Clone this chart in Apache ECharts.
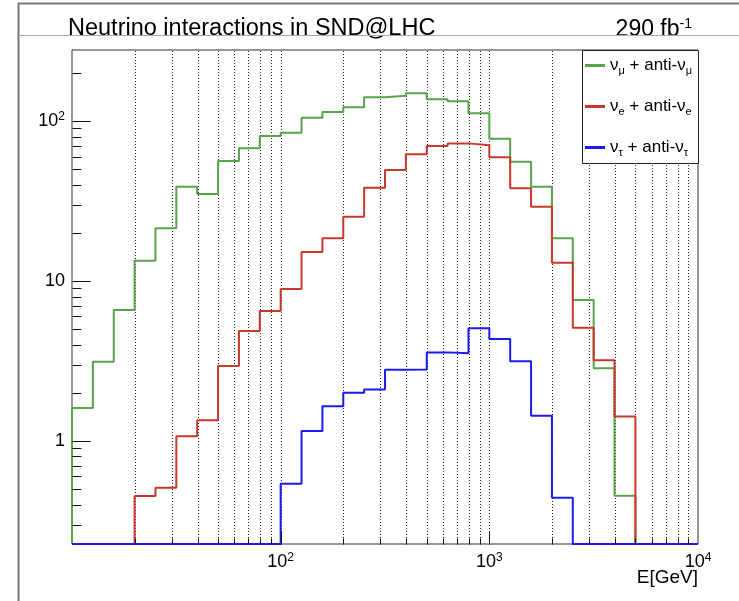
<!DOCTYPE html>
<html>
<head>
<meta charset="utf-8">
<script src="https://cdn.jsdelivr.net/npm/echarts@6/dist/echarts.min.js"></script>
<style>
html,body{margin:0;padding:0;background:#fff;}
#chart{width:739px;height:601px;}
</style>
</head>
<body>
<div id="chart"></div>
<script>
// ---- data ----
const binEdges = [10, 12.589, 15.849, 19.953, 25.119, 31.623, 39.811, 50.119, 63.096, 79.433,
  100, 125.89, 158.49, 199.53, 251.19, 316.23, 398.11, 501.19, 630.96, 794.33,
  1000, 1258.9, 1584.9, 1995.3, 2511.9, 3162.3, 3981.1, 5011.9, 6309.6, 7943.3, 10000];
const numuCounts = [1.61, 3.13, 6.59, 13.4, 21.4, 38.9, 35.0, 56.2, 67.5, 80.5,
  84.5, 105, 114, 122, 141, 144, 149, 137, 133, 112,
  77.5, 55.6, 38.9, 18.5, 7.6, 2.85, 0.455, 0, 0, 0];
const nueCounts = [0, 0, 0, 0.453, 0.51, 1.07, 1.35, 2.94, 4.87, 6.49,
  8.91, 15.2, 18.5, 25.2, 38.3, 49.4, 61.9, 69.8, 72.5, 70.5,
  59.3, 38.0, 29.1, 13.0, 5.1, 3.2, 1.42, 0, 0, 0];
const nutauCounts = [0, 0, 0, 0, 0, 0, 0, 0, 0, 0,
  0.541, 1.155, 1.65, 2.0, 2.1, 2.79, 2.8, 3.58, 3.53, 5.06,
  4.34, 3.15, 1.44, 0.442, 0, 0, 0, 0, 0, 0];
const seriesNames = ['numu', 'nue', 'nutau'];
const seriesLabels = {
  numu: '{n|\u03bd}{s|\u03bc}{n| + anti-\u03bd}{s|\u03bc}',
  nue: '{n|\u03bd}{s|e}{n| + anti-\u03bd}{s|e}',
  nutau: '{n|\u03bd}{s|\u03c4}{n| + anti-\u03bd}{s|\u03c4}'
};
const xRange = [10, 10000];
const yRange = [0.227, 278];
const xGridValues = [20, 30, 40, 50, 60, 70, 80, 90, 100, 200, 300, 400, 500, 600, 700, 800, 900,
  1000, 2000, 3000, 4000, 5000, 6000, 7000, 8000, 9000];
const xMajorTicks = [100, 1000];
const xMinorTicks = [20, 30, 40, 50, 60, 70, 80, 90, 200, 300, 400, 500, 600, 700, 800, 900,
  2000, 3000, 4000, 5000, 6000, 7000, 8000, 9000];
const yMajorTicks = [1, 10, 100];
const yMinorTicks = [0.3, 0.4, 0.5, 0.6, 0.7, 0.8, 0.9, 2, 3, 4, 5, 6, 7, 8, 9,
  20, 30, 40, 50, 60, 70, 80, 90, 200];
const xTickLabels = {100: '{b|10}{p|2}', 1000: '{b|10}{p|3}', 10000: '{b|10}{p|4}'};
const yTickLabels = {1: '{b|1}', 10: '{b|10}', 100: '{b|10}{p|2}'};

// ---- styling ----
const FONT = '"Liberation Sans", Arial, Helvetica, sans-serif';
const colors = {numu: '#58a24c', nue: '#c8382c', nutau: '#1a1af2'};
const labelRich = {
  b: {fontFamily: FONT, fontSize: 18, color: '#000'},
  p: {fontFamily: FONT, fontSize: 12, color: '#000', padding: [0, 0, 9, 0]}
};

function histPoints(counts) {
  // ROOT draws empty bins on the lower frame edge
  const v = c => (c > 0 ? c : yRange[0]);
  const pts = [[binEdges[0], yRange[0]]];
  for (let i = 0; i < counts.length; i++) pts.push([binEdges[i], v(counts[i])]);
  pts.push([binEdges[counts.length], v(counts[counts.length - 1])]);
  return pts;
}

function tickSeries(values, axis, len) {
  return {
    type: 'custom', silent: true, z: 5, animation: false,
    data: values.map(val => axis === 'x' ? [val, yRange[0]] : [xRange[0], val]),
    renderItem: function (params, api) {
      const p = api.coord([api.value(0), api.value(1)]);
      const x = Math.round(p[0]) + 0.5, y = Math.round(p[1]) + 0.5;
      const shape = axis === 'x'
        ? {x1: x, y1: y, x2: x, y2: y - len}
        : {x1: x, y1: y, x2: x + len, y2: y};
      return {type: 'line', shape: shape, style: {stroke: '#111', lineWidth: 1}};
    }
  };
}

const gridSeries = {
  type: 'custom', silent: true, z: 1, animation: false,
  data: xGridValues.map(v => [v, yRange[0]]),
  renderItem: function (params, api) {
    const b = api.coord([api.value(0), yRange[0]]);
    const t = api.coord([api.value(0), yRange[1]]);
    const x = Math.round(b[0]) + 0.5;
    return {type: 'line', shape: {x1: x, y1: b[1], x2: x, y2: t[1]},
      style: {stroke: '#222', lineWidth: 1, lineDash: [1, 2]}};
  }
};

const countsBySeries = {numu: numuCounts, nue: nueCounts, nutau: nutauCounts};
const histSeries = seriesNames.map(name => ({
  name: name, type: 'line', step: 'end', symbol: 'none', clip: false,
  animation: false, z: 3,
  data: histPoints(countsBySeries[name]),
  color: colors[name],
  itemStyle: {color: colors[name]},
  lineStyle: {color: colors[name], width: 2}
}));

function powerLabel(map) {
  return function (v) {
    const k = Math.round(Math.log10(v));
    const p = Math.pow(10, k);
    if (Math.abs(v - p) / p > 1e-6) return '';
    return map[p] || '';
  };
}

const chart = echarts.init(document.getElementById('chart'), null, {renderer: 'canvas'});
chart.setOption({
  animation: false,
  backgroundColor: '#fff',
  title: [
    {text: 'Neutrino interactions in SND@LHC', left: 68, top: 17, padding: 0,
      textStyle: {fontFamily: FONT, fontSize: 23.5, fontWeight: 'normal', color: '#000'}},
    {text: '{a|290 fb}{s|-1}', right: 47, top: 17, padding: 0,
      textStyle: {fontFamily: FONT, fontWeight: 'normal', color: '#000',
        rich: {a: {fontFamily: FONT, fontSize: 23, color: '#000'},
               s: {fontFamily: FONT, fontSize: 14, color: '#000', padding: [0, 0, 11, 0]}}}}
  ],
  grid: {left: 72, right: 41, top: 50, bottom: 57, show: true,
    borderColor: '#333', borderWidth: 1, backgroundColor: 'transparent'},
  xAxis: {
    type: 'log', logBase: 10, min: xRange[0], max: xRange[1],
    axisLine: {show: false}, axisTick: {show: false}, splitLine: {show: false},
    minorTick: {show: false}, minorSplitLine: {show: false},
    axisLabel: {
      fontFamily: FONT, fontSize: 18, color: '#000', margin: 8,
      showMinLabel: true, showMaxLabel: true,
      rich: labelRich,
      formatter: powerLabel(xTickLabels)
    }
  },
  yAxis: {
    type: 'log', logBase: 10, min: yRange[0], max: yRange[1],
    axisLine: {show: false}, axisTick: {show: false}, splitLine: {show: false},
    minorTick: {show: false}, minorSplitLine: {show: false},
    axisLabel: {
      fontFamily: FONT, fontSize: 18, color: '#000', margin: 7,
      showMinLabel: true, showMaxLabel: true,
      rich: labelRich,
      formatter: powerLabel(yTickLabels)
    }
  },
  legend: {
    data: seriesNames, orient: 'vertical', left: 585, top: 57,
    itemWidth: 20, itemHeight: 3, icon: 'rect', itemGap: 22, padding: 0, z: 60,
    selectedMode: false,
    formatter: function (name) { return seriesLabels[name]; },
    textStyle: {
      fontFamily: FONT, color: '#000',
      rich: {
        n: {fontFamily: FONT, fontSize: 17, color: '#000'},
        s: {fontFamily: FONT, fontSize: 11, color: '#000', padding: [10, 0, 0, 0]}
      }
    }
  },
  graphic: [
    {type: 'line', z: 40, shape: {x1: 18.5, y1: 3, x2: 18.5, y2: 601}, style: {stroke: '#777', lineWidth: 2}},
    {type: 'line', z: 40, shape: {x1: 18, y1: 3.5, x2: 739, y2: 3.5}, style: {stroke: '#777', lineWidth: 2}},
    {type: 'line', z: 40, shape: {x1: 19, y1: 35.5, x2: 739, y2: 35.5}, style: {stroke: '#aaa', lineWidth: 1}},
    {type: 'rect', z: 50, shape: {x: 582.5, y: 50.5, width: 116, height: 113},
      style: {fill: '#fff', stroke: '#222', lineWidth: 1}},
    {type: 'text', z: 50, style: {text: 'E[GeV]', x: 698, y: 578, align: 'right', verticalAlign: 'middle',
      font: '19px ' + FONT, fill: '#000'}}
  ],
  series: [gridSeries].concat(histSeries, [
    tickSeries(xMajorTicks, 'x', 13),
    tickSeries(xMinorTicks, 'x', 6),
    tickSeries(yMajorTicks, 'y', 18),
    tickSeries(yMinorTicks, 'y', 9)
  ])
});
</script>
</body>
</html>
